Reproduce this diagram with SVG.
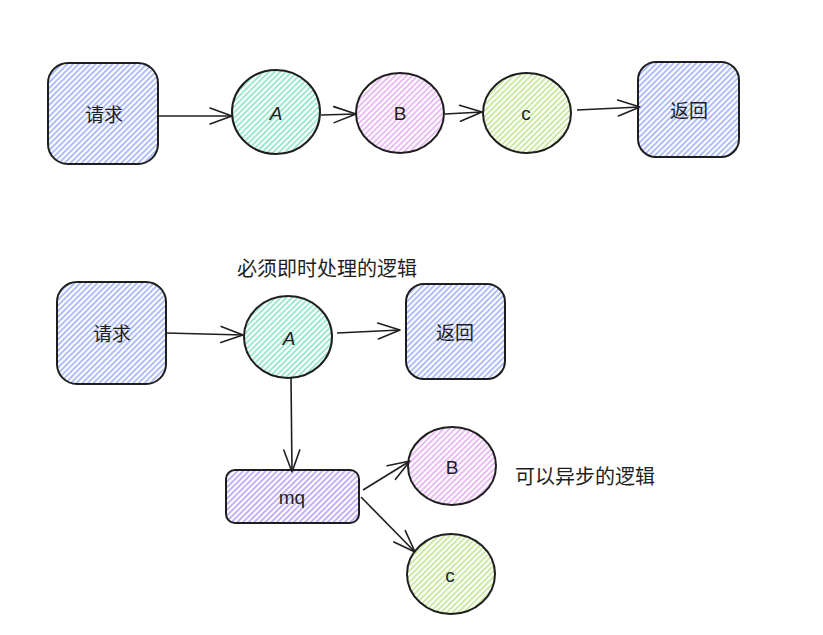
<svg xmlns="http://www.w3.org/2000/svg" width="823" height="635" viewBox="0 0 823 635">
<defs>
<pattern id="hBlue" width="4" height="4" patternUnits="userSpaceOnUse" patternTransform="rotate(45)"><line x1="1" y1="0" x2="1" y2="4" stroke="#7b93f5" stroke-width="1.2"/></pattern>
<pattern id="hGreen" width="4" height="4" patternUnits="userSpaceOnUse" patternTransform="rotate(45)"><line x1="1" y1="0" x2="1" y2="4" stroke="#5fd8b0" stroke-width="1.2"/></pattern>
<pattern id="hPurple" width="4" height="4" patternUnits="userSpaceOnUse" patternTransform="rotate(45)"><line x1="1" y1="0" x2="1" y2="4" stroke="#de8ef0" stroke-width="1.2"/></pattern>
<pattern id="hLime" width="4" height="4" patternUnits="userSpaceOnUse" patternTransform="rotate(45)"><line x1="1" y1="0" x2="1" y2="4" stroke="#a9dc6a" stroke-width="1.2"/></pattern>
<pattern id="hViolet" width="4" height="4" patternUnits="userSpaceOnUse" patternTransform="rotate(45)"><line x1="1" y1="0" x2="1" y2="4" stroke="#9a7ff0" stroke-width="1.2"/></pattern>
<marker id="arr" markerWidth="26" markerHeight="20" refX="24" refY="10" orient="auto" markerUnits="userSpaceOnUse"><path d="M2,2 L24,10 L2,18" fill="none" stroke="#1e1e1e" stroke-width="1.6" stroke-linecap="round" stroke-linejoin="round"/></marker>
</defs>
<style>
.shape{stroke:#1e1e1e;stroke-width:2}
.lbl{font-family:"Liberation Sans","Noto Sans CJK SC",sans-serif;font-size:19px;fill:#1e1e1e;text-anchor:middle;dominant-baseline:central}
.cjk{font-family:"Noto Sans CJK SC","Liberation Sans",sans-serif}
.note{font-family:"Noto Sans CJK SC","Liberation Sans",sans-serif;font-size:20px;fill:#1e1e1e}
.conn{fill:none;stroke:#1e1e1e;stroke-width:1.6;marker-end:url(#arr)}
</style>
<rect width="823" height="635" fill="#ffffff"/>
<g id="connectors">
<path class="conn" d="M158,116 L232,116"/>
<path class="conn" d="M321,115 L356,114"/>
<path class="conn" d="M445,114 L482,112"/>
<path class="conn" d="M577,110 L640,107"/>
<path class="conn" d="M166,333 L243,335"/>
<path class="conn" d="M337,333 L400,330"/>
<path class="conn" d="M291,378 L292,472"/>
<path class="conn" d="M363,490 L410,461"/>
<path class="conn" d="M361,497 L415,552"/>
</g>
<g id="req1"><rect class="shape" x="48" y="63" width="110" height="101" rx="20" fill="url(#hBlue)"/><text class="lbl cjk" x="104" y="113">请求</text></g>
<g id="a1"><ellipse class="shape" cx="276" cy="112" rx="44" ry="42" fill="url(#hGreen)"/><text class="lbl" x="276" y="113" font-style="italic">A</text></g>
<g id="b1"><ellipse class="shape" cx="400" cy="113" rx="44" ry="40" fill="url(#hPurple)"/><text class="lbl" x="400" y="113">B</text></g>
<g id="c1"><ellipse class="shape" cx="527" cy="113" rx="44" ry="40" fill="url(#hLime)"/><text class="lbl" x="526" y="113">c</text></g>
<g id="ret1"><rect class="shape" x="638" y="62" width="101" height="95" rx="18" fill="url(#hBlue)"/><text class="lbl cjk" x="689" y="109">返回</text></g>
<g id="note1"><text class="note" x="237" y="276">必须即时处理的逻辑</text></g>
<g id="req2"><rect class="shape" x="57" y="282" width="109" height="102" rx="20" fill="url(#hBlue)"/><text class="lbl cjk" x="112" y="332">请求</text></g>
<g id="a2"><ellipse class="shape" cx="288" cy="337" rx="44" ry="41" fill="url(#hGreen)"/><text class="lbl" x="289" y="338" font-style="italic">A</text></g>
<g id="ret2"><rect class="shape" x="406" y="284" width="99" height="95" rx="18" fill="url(#hBlue)"/><text class="lbl cjk" x="455" y="331">返回</text></g>
<g id="mq"><rect class="shape" x="226" y="470" width="133" height="53" rx="9" fill="url(#hViolet)"/><text class="lbl" x="292" y="497" font-size="14">mq</text></g>
<g id="b2"><ellipse class="shape" cx="452" cy="466" rx="44" ry="39" fill="url(#hPurple)"/><text class="lbl" x="452" y="467">B</text></g>
<g id="c2"><ellipse class="shape" cx="451" cy="574" rx="44" ry="40" fill="url(#hLime)"/><text class="lbl" x="450" y="575">c</text></g>
<g id="note2"><text class="note" x="515" y="484">可以异步的逻辑</text></g>
</svg>
